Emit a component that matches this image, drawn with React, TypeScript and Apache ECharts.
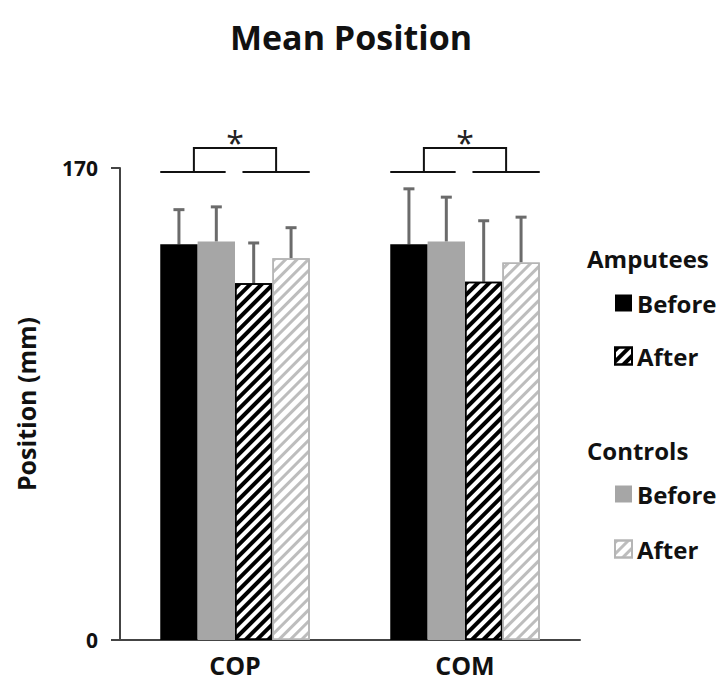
import React, { useEffect, useRef } from "react";
import * as echarts from "echarts";

// Categories and group means (mm)
const categories = ["COP", "COM"];
const amputeesBefore = [142.5, 142.5];
const controlsBefore = [143.5, 143.5];
const amputeesAfter = [128.5, 129];
const controlsAfter = [137.5, 136];

// Standard deviations (upper error bars)
const amputeesBeforeSd = [12.5, 20];
const controlsBeforeSd = [12.5, 16];
const amputeesAfterSd = [14.5, 22];
const controlsAfterSd = [11, 16.3];

// Y-axis ticks
const yMin = 0;
const yMax = 170;

// Significance bracket levels (value space, above the axis top)
const bracketBase = 168.6;
const bracketTop = 177.2;
const bracketStarLevel = 179.2;
const bracketLabel = "*";

const FONT = "Open Sans";
const BAR_SLOTS = 4;
const CATEGORY_GAP = 0.35;

export default function App() {
  const ref = useRef<HTMLDivElement>(null);

  useEffect(() => {
    document.body.style.margin = "0";
    if (!ref.current) return;
    const chart = echarts.init(ref.current, undefined, { renderer: "svg" });

    const blackHatch = {
      symbol: "rect",
      symbolSize: 1,
      dashArrayX: [1, 0],
      dashArrayY: [3.6, 3.4],
      rotation: -Math.PI / 4,
      color: "#000000",
      backgroundColor: "#ffffff",
    };
    const grayHatch = {
      symbol: "rect",
      symbolSize: 1,
      dashArrayX: [1, 0],
      dashArrayY: [2.6, 4.4],
      rotation: -Math.PI / 4,
      color: "#bdbdbd",
      backgroundColor: "#ffffff",
    };

    const means = [amputeesBefore, controlsBefore, amputeesAfter, controlsAfter];
    const sds = [amputeesBeforeSd, controlsBeforeSd, amputeesAfterSd, controlsAfterSd];
    const sdRows: number[][] = [];
    categories.forEach((_, c) => {
      means.forEach((m, s) => sdRows.push([c, s, m[c], sds[s][c]]));
    });

    const slotWidth = (api: any) => (api.size([1, 0])[0] * (1 - CATEGORY_GAP)) / BAR_SLOTS;

    const headerStyle = (text: string) => ({
      text,
      fontFamily: FONT,
      fontWeight: "bold",
      fontSize: 24,
      fill: "#111",
      align: "left",
      verticalAlign: "middle",
    });

    const legendText = { fontFamily: FONT, fontWeight: "bold", fontSize: 24, color: "#111" };

    const option: any = {
      animation: false,
      textStyle: { fontFamily: FONT },
      grid: { left: 120, right: 142, top: 168, bottom: 40 },
      graphic: [
        {
          type: "text",
          x: 351,
          y: 37,
          style: {
            text: "Mean Position",
            fontFamily: FONT,
            fontWeight: "bold",
            fontSize: 34,
            fill: "#111",
            align: "center",
            verticalAlign: "middle",
          },
        },
        { type: "text", x: 587, y: 258, style: headerStyle("Amputees") },
        { type: "text", x: 587, y: 450, style: headerStyle("Controls") },
      ],
      legend: [
        {
          orient: "vertical",
          left: 609,
          top: 286,
          itemWidth: 17,
          itemHeight: 17,
          itemGap: 29,
          icon: "rect",
          data: ["Amputees Before", "Amputees After"],
          formatter: (n: string) => n.split(" ")[1],
          textStyle: legendText,
          selectedMode: false,
        },
        {
          orient: "vertical",
          left: 609,
          top: 477,
          itemWidth: 17,
          itemHeight: 17,
          itemGap: 31,
          icon: "rect",
          data: ["Controls Before", "Controls After"],
          formatter: (n: string) => n.split(" ")[1],
          textStyle: legendText,
          selectedMode: false,
        },
      ],
      xAxis: {
        type: "category",
        data: categories,
        axisLine: { show: true, lineStyle: { color: "#444", width: 2 } },
        axisTick: { show: false },
        axisLabel: {
          margin: 12,
          fontFamily: FONT,
          fontWeight: "bold",
          fontSize: 25,
          color: "#111",
        },
      },
      yAxis: {
        type: "value",
        min: yMin,
        max: yMax,
        interval: yMax - yMin,
        name: "Position (mm)",
        nameLocation: "middle",
        nameGap: 82,
        nameTextStyle: { fontFamily: FONT, fontWeight: "bold", fontSize: 25, color: "#111" },
        axisLine: { show: true, lineStyle: { color: "#444", width: 2 } },
        axisTick: { show: true, inside: false, length: 9, lineStyle: { color: "#444", width: 2 } },
        splitLine: { show: false },
        axisLabel: {
          margin: 22,
          fontFamily: FONT,
          fontWeight: "bold",
          fontSize: 21,
          color: "#111",
        },
      },
      series: [
        {
          name: "Amputees Before",
          type: "bar",
          data: amputeesBefore,
          barGap: "0%",
          barCategoryGap: "35%",
          itemStyle: { color: "#000000" },
        },
        {
          name: "Controls Before",
          type: "bar",
          data: controlsBefore,
          itemStyle: { color: "#a6a6a6" },
        },
        {
          name: "Amputees After",
          type: "bar",
          data: amputeesAfter,
          itemStyle: { color: "#ffffff", decal: blackHatch, borderColor: "#000", borderWidth: 1.5 },
        },
        {
          name: "Controls After",
          type: "bar",
          data: controlsAfter,
          itemStyle: { color: "#ffffff", decal: grayHatch, borderColor: "#b5b5b5", borderWidth: 1.5 },
        },
        {
          name: "sd",
          type: "custom",
          data: sdRows,
          encode: { x: 0, y: 2 },
          clip: false,
          z: 1,
          renderItem: (_params: any, api: any) => {
            const c = api.value(0);
            const s = api.value(1);
            const m = api.value(2);
            const sd = api.value(3);
            const bw = slotWidth(api);
            const cx = api.coord([c, 0])[0] + (s - (BAR_SLOTS - 1) / 2) * bw;
            const yBar = api.coord([c, m])[1];
            const yTop = api.coord([c, m + sd])[1];
            const st = { stroke: "#6b6b6b", lineWidth: 3 };
            return {
              type: "group",
              children: [
                { type: "line", shape: { x1: cx, y1: yBar, x2: cx, y2: yTop }, style: st },
                { type: "line", shape: { x1: cx - 5.5, y1: yTop, x2: cx + 5.5, y2: yTop }, style: st },
              ],
            };
          },
        },
        {
          name: "significance",
          type: "custom",
          data: categories.map((_, i) => [i, bracketBase]),
          encode: { x: 0, y: 1 },
          clip: false,
          renderItem: (_params: any, api: any) => {
            const c = api.value(0);
            const bw = slotWidth(api);
            const cx = api.coord([c, 0])[0];
            const yb = api.coord([c, bracketBase])[1];
            const yt = api.coord([c, bracketTop])[1];
            const ys = api.coord([c, bracketStarLevel])[1];
            const st = { stroke: "#111", lineWidth: 2 };
            const xl = cx - 1.1 * bw;
            const xr = cx + 1.1 * bw;
            return {
              type: "group",
              children: [
                { type: "line", shape: { x1: cx - 2 * bw, y1: yb, x2: cx - 0.25 * bw, y2: yb }, style: st },
                { type: "line", shape: { x1: cx + 0.2 * bw, y1: yb, x2: cx + 2 * bw, y2: yb }, style: st },
                {
                  type: "polyline",
                  shape: { points: [[xl, yb], [xl, yt], [xr, yt], [xr, yb]] },
                  style: { ...st, fill: "none" },
                },
                {
                  type: "text",
                  x: cx,
                  y: ys,
                  style: {
                    text: bracketLabel,
                    fontFamily: FONT,
                    fontWeight: "normal",
                    fontSize: 32,
                    fill: "#222",
                    align: "center",
                    verticalAlign: "middle",
                  },
                },
              ],
            };
          },
        },
      ],
    };

    chart.setOption(option);
    return () => chart.dispose();
  }, []);

  return <div ref={ref} style={{ width: 722, height: 680 }} />;
}
